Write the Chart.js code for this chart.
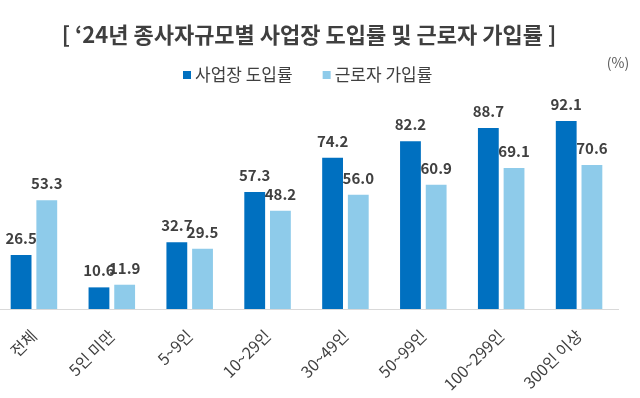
<!DOCTYPE html>
<html>
<head>
<meta charset="utf-8">
<script src="https://cdn.jsdelivr.net/npm/chart.js@4"></script>
<style>
    html, body { margin: 0; padding: 0; background: #fff; overflow: hidden; }
    #wrap { width: 640px; height: 398px; position: relative; overflow: hidden; }
    #rateChart { position: absolute; left: -5px; top: 0; }
</style>
</head>
<body>
<div id="wrap"><canvas id="rateChart" width="645" height="398"></canvas></div>
<script>
let titleText = "[ ‘24년 종사자규모별 사업장 도입률 및 근로자 가입률 ]";
let unitText = "(%)";
let categories = ["전체", "5인 미만", "5~9인", "10~29인", "30~49인", "50~99인", "100~299인", "300인 이상"];
let seriesNames = ["사업장 도입률", "근로자 가입률"];
let workplaceRate = [26.5, 10.6, 32.7, 57.3, 74.2, 82.2, 88.7, 92.1];
let workerRate = [53.3, 11.9, 29.5, 48.2, 56.0, 60.9, 69.1, 70.6];
let colors = ["#0070c0", "#8ecbea"];

const FONT = "'Noto Sans CJK KR', 'Noto Sans', sans-serif";
const SHIFT = 5; // canvas sits 5px left of the page

// title, legend, unit and value labels drawn on the canvas
const decorPlugin = {
    id: "decor",
    afterDatasetsDraw(chart) {
        let ctx = chart.ctx;
        ctx.save();

        // value labels
        ctx.fillStyle = "#404040";
        ctx.font = "bold 15px " + FONT;
        ctx.textAlign = "center";
        ctx.textBaseline = "alphabetic";
        chart.data.datasets.forEach((ds, i) => {
            let meta = chart.getDatasetMeta(i);
            meta.data.forEach((bar, j) => {
                ctx.fillText(ds.data[j].toFixed(1), bar.x, bar.y - 11);
            });
        });

        // title
        ctx.fillStyle = "#3f3f3f";
        ctx.font = "bold 22px " + FONT;
        ctx.textBaseline = "middle";
        ctx.fillText(titleText, 309 + SHIFT, 35);

        // legend
        ctx.font = "17px " + FONT;
        ctx.textAlign = "left";
        let x = 183 + SHIFT;
        chart.data.datasets.forEach((ds) => {
            ctx.fillStyle = ds.backgroundColor;
            ctx.fillRect(x, 71, 8, 8);
            ctx.fillStyle = "#404040";
            ctx.fillText(ds.label, x + 12, 75);
            x += 12 + ctx.measureText(ds.label).width + 30;
        });

        // unit
        ctx.font = "14px " + FONT;
        ctx.fillStyle = "#595959";
        ctx.textAlign = "center";
        ctx.fillText(unitText, 618 + SHIFT, 63);

        ctx.restore();
    }
};

let ctx = document.getElementById("rateChart").getContext("2d");
new Chart(ctx, {
    type: "bar",
    data: {
        labels: categories,
        datasets: [
            { label: seriesNames[0], data: workplaceRate, backgroundColor: colors[0] },
            { label: seriesNames[1], data: workerRate, backgroundColor: colors[1] }
        ]
    },
    options: {
        responsive: false,
        animation: false,
        layout: { padding: { top: 105, left: 0, right: 22, bottom: 0 } },
        datasets: {
            bar: { categoryPercentage: 0.66, barPercentage: 0.81 }
        },
        plugins: {
            legend: { display: false },
            title: { display: false },
            tooltip: { enabled: false }
        },
        scales: {
            x: {
                grid: { display: false },
                border: { display: true, color: "#d9d9d9", width: 1 },
                ticks: {
                    color: "#404040",
                    font: { family: FONT, size: 16 },
                    minRotation: 45,
                    maxRotation: 45,
                    padding: 9
                },
                afterFit(scale) { scale.height = 89; }
            },
            y: {
                display: false,
                min: 0,
                max: 100
            }
        }
    },
    plugins: [decorPlugin]
});
</script>
</body>
</html>
